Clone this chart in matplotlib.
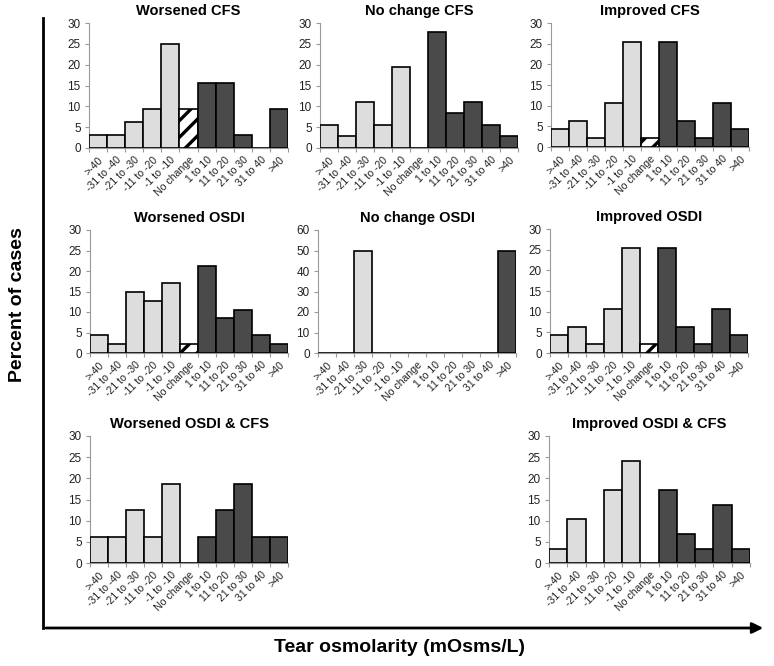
import numpy as np
import matplotlib
matplotlib.use('Agg')
import matplotlib.pyplot as plt
from matplotlib.lines import Line2D
from matplotlib.patches import FancyArrowPatch

plt.rcParams['font.family'] = ['Liberation Sans', 'DejaVu Sans']
plt.rcParams['hatch.linewidth'] = 2.4

categories = [">-40", "-31 to -40", "-21 to -30", "-11 to -20", "-1 to -10",
              "No change", "1 to 10", "11 to 20", "21 to 30", "31 to 40", ">40"]

worsened_cfs = [3.1, 3.1, 6.25, 9.4, 25.0, 9.4, 15.6, 15.6, 3.1, 0, 9.4]
nochange_cfs = [5.6, 2.8, 11.1, 5.6, 19.4, 0, 27.8, 8.3, 11.1, 5.6, 2.8]
improved_cfs = [4.3, 6.4, 2.1, 10.6, 25.5, 2.1, 25.5, 6.4, 2.1, 10.6, 4.3]
worsened_osdi = [4.3, 2.1, 14.9, 12.8, 17.0, 2.1, 21.3, 8.5, 10.6, 4.3, 2.1]
nochange_osdi = [0, 0, 50, 0, 0, 0, 0, 0, 0, 0, 50]
improved_osdi = [4.3, 6.4, 2.1, 10.6, 25.5, 2.1, 25.5, 6.4, 2.1, 10.6, 4.3]
worsened_both = [6.25, 6.25, 12.5, 6.25, 18.75, 0, 6.25, 12.5, 18.75, 6.25, 6.25]
improved_both = [3.4, 10.3, 0, 17.2, 24.1, 0, 17.2, 6.9, 3.4, 13.8, 3.4]

titles = ["Worsened CFS", "No change CFS", "Improved CFS",
          "Worsened OSDI", "No change OSDI", "Improved OSDI",
          "Worsened OSDI & CFS", "Improved OSDI & CFS"]
series = [worsened_cfs, nochange_cfs, improved_cfs,
          worsened_osdi, nochange_osdi, improved_osdi,
          worsened_both, improved_both]
ymaxes = [30, 30, 30, 30, 60, 30, 30, 30]

W, H = 774, 666
fig = plt.figure(figsize=(W / 100, H / 100), dpi=100)

# panel boxes in pixels: left, right, top, bottom
boxes = [(89, 288, 23, 148), (320, 518, 23, 148), (551, 749, 23, 147),
         (90, 288, 230, 353), (318, 516, 230, 353), (550, 748, 229, 353),
         (90, 288, 436, 563), (549, 750, 436, 563)]

light = '#dddddd'
dark = '#4a4a4a'

for title, vals, ymax, (l, r, t, b) in zip(titles, series, ymaxes, boxes):
    ax = fig.add_axes([l / W, 1 - b / H, (r - l) / W, (b - t) / H])
    x = np.arange(len(categories))
    for i, v in enumerate(vals):
        if i < 5:
            fc, hatch = light, None
        elif i == 5:
            fc, hatch = 'white', '//'
        else:
            fc, hatch = dark, None
        ax.bar(x[i], v, width=1.0, color=fc, edgecolor='black',
               linewidth=1.2, hatch=hatch, zorder=3)
    ax.set_xlim(-0.5, len(categories) - 0.5)
    ax.set_ylim(0, ymax)
    step = 5 if ymax == 30 else 10
    ax.set_yticks(np.arange(0, ymax + 1, step))
    ax.set_xticks(np.arange(-0.5, len(categories), 1.0))
    ax.set_xticklabels([])
    ax.set_xticks(x, minor=True)
    ax.set_xticklabels(categories, minor=True, rotation=45, ha='right',
                       rotation_mode='anchor', fontsize=7.6, color='#222222')
    ax.tick_params(axis='x', which='major', direction='out', length=3,
                   color='#999999', width=0.8)
    ax.tick_params(axis='x', which='minor', length=0, pad=5)
    ax.tick_params(axis='y', direction='out', length=3, color='#999999',
                   width=0.8, labelsize=8.5, labelcolor='#222222', pad=3)
    for s in ['top', 'right']:
        ax.spines[s].set_visible(False)
    for s in ['left', 'bottom']:
        ax.spines[s].set_color('#999999')
        ax.spines[s].set_linewidth(0.8)
    ax.set_title(title, fontsize=10.5, fontweight='bold', pad=6)

# big outer axes
fig.add_artist(Line2D([43 / W, 43 / W], [1 - 18 / H, 1 - 628 / H],
                      transform=fig.transFigure, color='black', linewidth=2))
fig.add_artist(FancyArrowPatch((43 / W, 1 - 628 / H), (766 / W, 1 - 628 / H),
                               transform=fig.transFigure, arrowstyle='-|>',
                               mutation_scale=16, color='black', linewidth=2))
fig.text(18 / W, 1 - 305 / H, 'Percent of cases', rotation=90, fontsize=14,
         fontweight='bold', ha='center', va='center')
fig.text(400 / W, 1 - 648 / H, 'Tear osmolarity (mOsms/L)', fontsize=14,
         fontweight='bold', ha='center', va='center')

fig.savefig('out.png', dpi=100)
